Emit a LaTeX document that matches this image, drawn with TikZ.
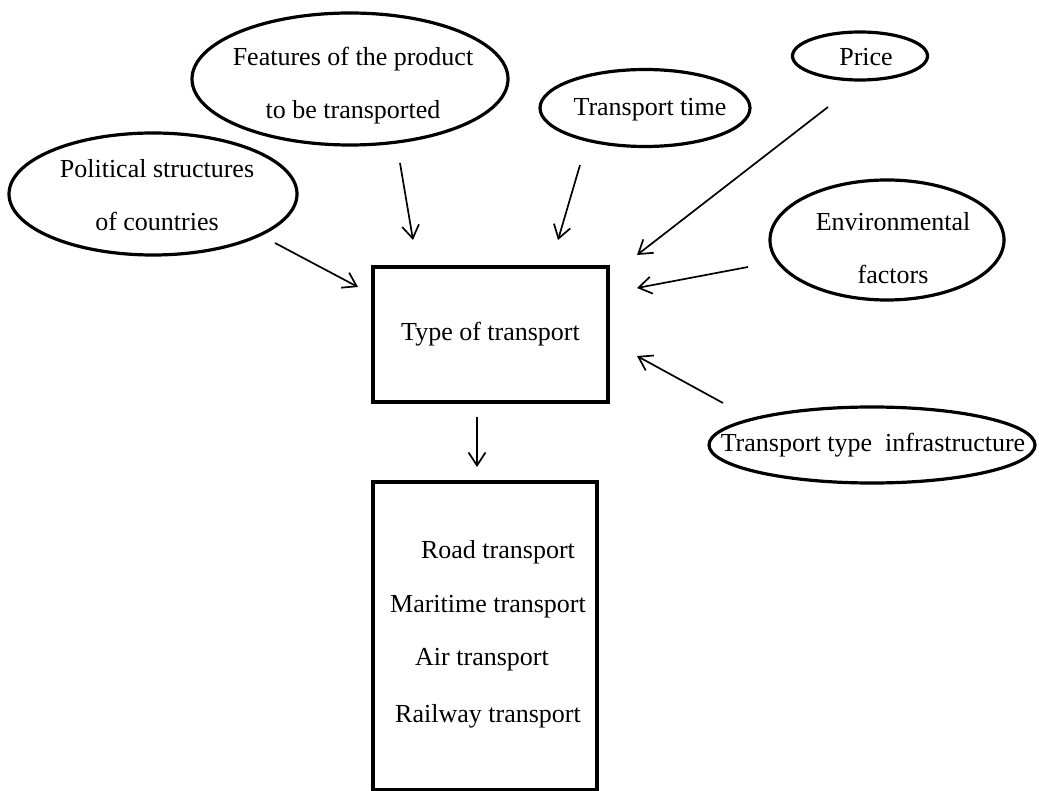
\documentclass[tikz,border=0pt]{standalone}
\usepackage{fontspec}
\setmainfont{Liberation Serif}
\usetikzlibrary{shapes.geometric,arrows.meta}

\begin{document}
\begin{tikzpicture}[x=1pt,y=1pt,yscale=-1,
  oval/.style={draw, ellipse, line width=3.2pt, inner sep=0pt},
  box/.style={draw, rectangle, line width=3.2pt, inner sep=0pt, align=center, font=\fontsize{26}{31}\selectfont},
  lbl/.style={inner sep=0pt, align=center, font=\fontsize{26}{53}\selectfont},
  arr/.style={line width=1.7pt, -{Straight Barb[length=13pt,width=17pt,line width=1.7pt]}}]
%set diagram size to the reference page
\useasboundingbox (0,0) rectangle (1039,791);

%Shape: Ellipse
\node [oval, minimum width=316pt, minimum height=132pt] (feat) at (350,79) {};
% Text Node
\node [lbl] (feattxt) at (353,86) {Features of the product\\to be transported};
%Shape: Ellipse
\node [oval, minimum width=288pt, minimum height=122pt] (polit) at (153,194) {};
% Text Node
\node [lbl] (polittxt) at (157,195) {Political structures\\of countries};
%Shape: Ellipse
\node [oval, minimum width=210pt, minimum height=77pt] (time) at (645,108) {};
% Text Node
\node [lbl] (timetxt) at (650,110) {Transport time};
%Shape: Ellipse
\node [oval, minimum width=135pt, minimum height=48pt] (price) at (860,56) {};
% Text Node
\node [lbl] (pricetxt) at (866,57) {Price};
%Shape: Ellipse
\node [oval, minimum width=234pt, minimum height=120pt] (env) at (887,240) {};
% Text Node
\node [lbl] (envtxt) at (893,248) {Environmental\\factors};
%Shape: Ellipse
\node [oval, minimum width=326pt, minimum height=76pt] (infra) at (872,445) {};
% Text Node
\node [lbl] (infratxt) at (873,445) {Transport type\ \ infrastructure};

%Shape: Rectangle
\node [box, minimum width=235pt, minimum height=135pt] (type) at (490.5,334.5) {Type of transport};
%Shape: Rectangle
\node [box, minimum width=224pt, minimum height=308pt] (modes) at (485,636) {};
% Text Node
\node [lbl, anchor=base] (road) at (498,558) {Road transport};
% Text Node
\node [lbl, anchor=base] (sea) at (488,612) {Maritime transport};
% Text Node
\node [lbl, anchor=base] (air) at (482,665) {Air transport};
% Text Node
\node [lbl, anchor=base] (rail) at (488,722) {Railway transport};

%arrow ends
\coordinate (featA) at (400,163);
\coordinate (featB) at (413,240);
\coordinate (politA) at (275,243);
\coordinate (politB) at (358,287);
\coordinate (timeA) at (580,165);
\coordinate (timeB) at (558,240);
\coordinate (priceA) at (828,107);
\coordinate (priceB) at (637,255);
\coordinate (envA) at (748,267);
\coordinate (envB) at (637,288);
\coordinate (infraA) at (723,403);
\coordinate (infraB) at (637,356);
\coordinate (typeA) at (477,417);
\coordinate (typeB) at (477,467);

%Straight Lines
\draw [arr] (featA) -- (featB);
%Straight Lines
\draw [arr] (politA) -- (politB);
%Straight Lines
\draw [arr] (timeA) -- (timeB);
%Straight Lines
\draw [arr] (priceA) -- (priceB);
%Straight Lines
\draw [arr] (envA) -- (envB);
%Straight Lines
\draw [arr] (infraA) -- (infraB);
%Straight Lines
\draw [arr] (typeA) -- (typeB);

\end{tikzpicture}
\end{document}
